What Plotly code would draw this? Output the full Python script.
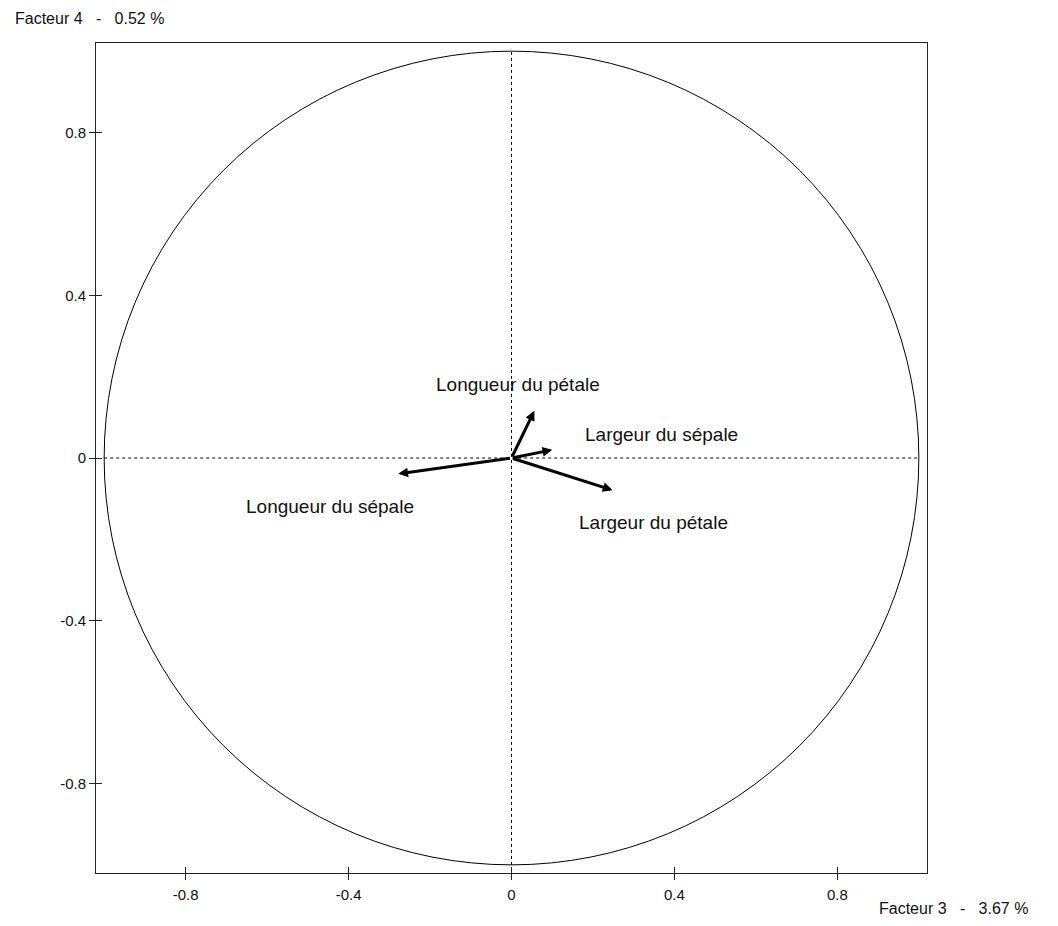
import plotly.graph_objects as go

variables = ["Longueur du sépale", "Longueur du pétale", "Largeur du sépale", "Largeur du pétale"]
f3 = [-0.278, 0.056, 0.100, 0.248]
f4 = [-0.039, 0.116, 0.020, -0.079]
tick_vals = [-0.8, -0.4, 0, 0.4, 0.8]
tick_text = ["-0.8", "-0.4", "0", "0.4", "0.8"]
x_title = "Facteur\u00a03\u00a0\u00a0\u00a0-\u00a0\u00a0\u00a03.67\u00a0%"
y_title = "Facteur\u00a04\u00a0\u00a0\u00a0-\u00a0\u00a0\u00a00.52\u00a0%"

# label pixel offsets from the arrow tips
label_dx = [-68, -16, 109, 41]
label_dy = [-33, 26, 15, -32]

FONT = "Liberation Sans, Arial, sans-serif"
fig = go.Figure()
fig.add_trace(go.Scatter(x=[0], y=[0], mode="markers", marker=dict(size=1, color="rgba(0,0,0,0)"),
                         hoverinfo="skip", showlegend=False))
fig.add_trace(go.Scatter(x=[0], y=[0], xaxis="x2", yaxis="y2", mode="markers",
                         marker=dict(size=1, color="rgba(0,0,0,0)"), hoverinfo="skip", showlegend=False))

shapes = [
    dict(type="circle", xref="x", yref="y", x0=-1, y0=-1, x1=1, y1=1, line=dict(color="black", width=1)),
    dict(type="line", xref="x", yref="y", x0=-1, y0=0, x1=1, y1=0, line=dict(color="black", width=1, dash="3px,3px")),
    dict(type="line", xref="x", yref="y", x0=0, y0=-1, x1=0, y1=1, line=dict(color="black", width=1, dash="3px,3px")),
]
annotations = []
for name, x, y, dx, dy in zip(variables, f3, f4, label_dx, label_dy):
    annotations.append(dict(x=x, y=y, ax=0, ay=0, xref="x", yref="y", axref="x", ayref="y",
                            text="", showarrow=True, arrowhead=2, arrowsize=0.65, arrowwidth=3,
                            arrowcolor="black"))
    annotations.append(dict(x=x, y=y, xref="x", yref="y", text=name, showarrow=False,
                            xshift=dx, yshift=dy, font=dict(family=FONT, size=19, color="#111")))

annotations.append(dict(x=0, y=1, xref="paper", yref="paper", xanchor="left", yanchor="middle",
                        text=y_title, showarrow=False, xshift=-83, yshift=25,
                        font=dict(family=FONT, size=16, color="#111")))
annotations.append(dict(x=1, y=0, xref="paper", yref="paper", xanchor="left", yanchor="middle",
                        text=x_title, showarrow=False, xshift=-50, yshift=-35,
                        font=dict(family=FONT, size=16, color="#111")))

axis_common = dict(range=[-1.02, 1.02], tickvals=tick_vals, ticktext=tick_text, showgrid=False,
                   zeroline=False, showline=True, linecolor="#222", linewidth=1, mirror=True,
                   ticks="outside", ticklen=6, tickcolor="#222",
                   tickfont=dict(family=FONT, size=15, color="#111"))
inner_axis = dict(range=[-1.02, 1.02], tickvals=tick_vals, showticklabels=False, showgrid=False,
                  zeroline=False, showline=False, ticks="inside", ticklen=6, tickcolor="#222")
fig.update_layout(
    width=1050, height=918, autosize=False,
    paper_bgcolor="white", plot_bgcolor="white",
    margin=dict(l=88, r=131, t=35, b=53),
    xaxis=dict(**axis_common, ticklabelstandoff=2),
    yaxis=dict(**axis_common, ticklabelstandoff=0),
    xaxis2=dict(**inner_axis, overlaying="x", side="bottom", anchor="y2"),
    yaxis2=dict(**inner_axis, overlaying="y", side="left", anchor="x2"),
    shapes=shapes, annotations=annotations, showlegend=False,
)
fig.write_html("out.html")
